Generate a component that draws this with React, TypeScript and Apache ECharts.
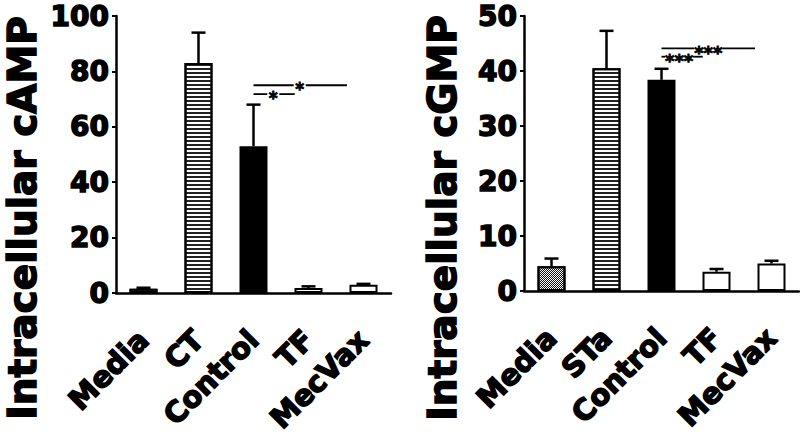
import React, { useEffect, useRef } from 'react';
import * as echarts from 'echarts';

// ---------- data ----------
const campCategories = ['Media', 'CT', 'Control', 'TF', 'MecVax'];
const campMeans = [1.5, 83, 53, 1.8, 3.0];
const campErrTops = [1.9, 94, 68, 2.4, 3.3];
const campTicks = [0, 20, 40, 60, 80, 100];
const campFills = ['dots', 'stripes', 'solid', 'white', 'white'];
const campSigFrom = [2, 2];
const campSigTo = [2.75, 3.7];
const campSigAt = [2.36, 2.84];
const campSigY = [71.8, 75];
const campSigLabels = ['*', '*'];

const cgmpCategories = ['Media', 'STa', 'Control', 'TF', 'MecVax'];
const cgmpMeans = [4.5, 40.5, 38.4, 3.5, 5.0];
const cgmpErrTops = [5.9, 47.3, 40.4, 4.0, 5.5];
const cgmpTicks = [0, 10, 20, 30, 40, 50];
const cgmpFills = ['checker', 'stripes', 'solid', 'white', 'white'];
const cgmpSigFrom = [2, 2];
const cgmpSigTo = [2.75, 3.7];
const cgmpSigAt = [2.32, 2.85];
const cgmpSigY = [42.6, 44.1];
const cgmpSigLabels = ['***', '***'];

const titles = ['Intracellular cAMP', 'Intracellular cGMP'];

// ---------- styles ----------
const FONT = 'DejaVu Sans';

function fillStyle(kind: string): any {
  switch (kind) {
    case 'solid':
      return { color: '#000' };
    case 'white':
      return { color: '#fff' };
    case 'stripes':
      return {
        color: '#fff',
        decal: { symbol: 'rect', symbolSize: 1, dashArrayX: [1, 0], dashArrayY: [1.5, 1.5], color: '#222', backgroundColor: '#fff' },
      };
    case 'dots':
      return {
        color: '#fff',
        decal: { symbol: 'rect', symbolSize: 1, dashArrayX: [1, 1], dashArrayY: [1, 2], color: '#666', backgroundColor: '#fff' },
      };
    case 'checker':
      return {
        color: '#fff',
        decal: { symbol: 'rect', symbolSize: 1, dashArrayX: [[1, 1], [0, 1, 1, 0]], dashArrayY: [1, 0], color: '#111', backgroundColor: '#fff' },
      };
  }
  return { color: '#fff' };
}

function buildPanel(
  idx: number,
  cats: string[],
  means: number[],
  errTops: number[],
  ticks: number[],
  fills: string[],
  sigFrom: number[],
  sigTo: number[],
  sigAt: number[],
  sigY: number[],
  sigLabels: string[]
) {
  const xAxis = {
    type: 'category',
    gridIndex: idx,
    data: cats,
    axisLine: { lineStyle: { color: '#000', width: 2.5 } },
    axisTick: { alignWithLabel: true, length: 5, lineStyle: { color: '#000', width: 2 } },
    axisLabel: {
      rotate: 45, interval: 0, fontSize: 29, fontWeight: 'bold', fontFamily: FONT, color: '#000', margin: 42,
      textBorderColor: '#000', textBorderWidth: 1.5,
    },
  };
  const yAxis = {
    type: 'value',
    gridIndex: idx,
    min: ticks[0],
    max: ticks[ticks.length - 1],
    interval: ticks[1] - ticks[0],
    axisLine: { show: true, lineStyle: { color: '#000', width: 2.5 } },
    axisTick: { show: true, length: 4, lineStyle: { color: '#000', width: 2 } },
    splitLine: { show: false },
    axisLabel: {
      fontSize: 28, fontWeight: 'bold', fontFamily: FONT, color: '#000', margin: 7,
      textBorderColor: '#000', textBorderWidth: 1.5,
    },
  };
  const bar = {
    type: 'bar',
    xAxisIndex: idx,
    yAxisIndex: idx,
    barWidth: 28,
    z: 3,
    itemStyle: { borderColor: '#000', borderWidth: 2 },
    data: means.map((v, i) => ({ value: v, itemStyle: fillStyle(fills[i]) })),
  };
  const err = {
    type: 'custom',
    xAxisIndex: idx,
    yAxisIndex: idx,
    z: 4,
    data: means.map((v, i) => [i, v, errTops[i]]),
    renderItem: (_p: any, api: any) => {
      const base = api.coord([api.value(0), api.value(1)]);
      const top = api.coord([api.value(0), api.value(2)]);
      const st = { stroke: '#000', lineWidth: 2.5 };
      return {
        type: 'group',
        children: [
          { type: 'line', shape: { x1: base[0], y1: base[1], x2: top[0], y2: top[1] }, style: st },
          { type: 'line', shape: { x1: top[0] - 7, y1: top[1], x2: top[0] + 7, y2: top[1] }, style: st },
        ],
      };
    },
  };
  const sig = {
    type: 'custom',
    xAxisIndex: idx,
    yAxisIndex: idx,
    z: 5,
    data: sigFrom.map((f, i) => [f, sigTo[i], sigY[i], sigAt[i]]),
    renderItem: (p: any, api: any) => {
      const label = sigLabels[p.dataIndex];
      const y = api.value(2);
      const p0 = api.coord([0, y]);
      const band = api.size([1, 0])[0];
      const x1 = p0[0] + api.value(0) * band;
      const x2 = p0[0] + api.value(1) * band;
      const cx = p0[0] + api.value(3) * band;
      const py = p0[1];
      const fs = label.length > 1 ? 18 : 17;
      const gap = label.length > 1 ? 28 : 12;
      const st = { stroke: '#000', lineWidth: 1.8 };
      return {
        type: 'group',
        children: [
          { type: 'line', shape: { x1: x1, y1: py, x2: cx - gap / 2, y2: py }, style: st },
          { type: 'line', shape: { x1: cx + gap / 2, y1: py, x2: x2, y2: py }, style: st },
          {
            type: 'text',
            x: cx,
            y: py + fs * 0.2,
            style: { text: label, font: `bold ${fs}px "${FONT}"`, fill: '#000', align: 'center', verticalAlign: 'middle', stroke: '#000', lineWidth: 0.8 },
          },
        ],
      };
    },
  };
  return { xAxis, yAxis, series: [bar, err, sig] };
}

export default function App() {
  const ref = useRef<HTMLDivElement>(null);
  useEffect(() => {
    if (!ref.current) return;
    const chart = echarts.init(ref.current, null, { renderer: 'svg' });
    const a = buildPanel(0, campCategories, campMeans, campErrTops, campTicks, campFills, campSigFrom, campSigTo, campSigAt, campSigY, campSigLabels);
    const b = buildPanel(1, cgmpCategories, cgmpMeans, cgmpErrTops, cgmpTicks, cgmpFills, cgmpSigFrom, cgmpSigTo, cgmpSigAt, cgmpSigY, cgmpSigLabels);
    const titleStyle = (t: string) => ({
      text: t, font: `bold 39px "${FONT}"`, fill: '#000', align: 'center', verticalAlign: 'middle', stroke: '#000', lineWidth: 1.5,
    });
    chart.setOption({
      animation: false,
      backgroundColor: '#fff',
      grid: [
        { left: 116, top: 16, width: 275, height: 277 },
        { left: 524, top: 16, width: 275, height: 275 },
      ],
      xAxis: [a.xAxis, b.xAxis],
      yAxis: [a.yAxis, b.yAxis],
      series: [...a.series, ...b.series],
      graphic: [
        { type: 'text', x: 22, y: 218, rotation: Math.PI / 2, style: titleStyle(titles[0]) },
        { type: 'text', x: 442, y: 218, rotation: Math.PI / 2, style: titleStyle(titles[1]) },
      ],
    } as any);
    return () => chart.dispose();
  }, []);
  return <div ref={ref} style={{ position: 'fixed', left: 0, top: 0, width: 800, height: 437 }} />;
}
